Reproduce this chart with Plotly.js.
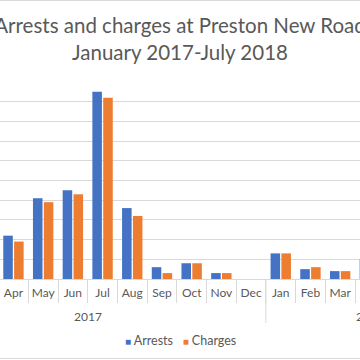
<!DOCTYPE html>
<html>
<head>
<meta charset="utf-8">
<script src="https://cdn.plot.ly/plotly-3.0.1.min.js"></script>
<style>
  html, body { margin: 0; padding: 0; background: #fff; }
  #wrap { position: relative; width: 360px; height: 360px; overflow: hidden; }
  #chart { width: 360px; height: 360px; }
  .edge { position: absolute; left: 0; width: 360px; height: 1px; background: #D9D9D9; }
</style>
</head>
<body>
<div id="wrap">
  <div id="chart"></div>
  <div class="edge" style="top:0px"></div>
  <div class="edge" style="top:358px"></div>
</div>
<script>
// Categories: year (outer) and month (inner)
const years = ['2017','2017','2017','2017','2017','2017','2017','2017','2017','2017','2017','2017',
               '2018','2018','2018','2018','2018','2018','2018'];
const months = ['Jan','Feb','Mar','Apr','May','Jun','Jul','Aug','Sep','Oct','Nov','Dec',
                'Jan','Feb','Mar','Apr','May','Jun','Jul'];
// Values (months outside the visible crop are unknown -> null)
const arrests = [null, null, null, 22, 41, 45, 95, 36, 6, 8, 3, 0, 13, 5, 4, 10, null, null, null];
const charges = [null, null, null, 19, 39, 43, 92, 32, 3, 8, 3, 0, 13, 6, 4, null, null, null, null];

const seriesNames = ['Arrests', 'Charges'];
const seriesColors = ['#4472C4', '#ED7D31'];

const FONT = 'Lato, "Open Sans", sans-serif';
const TXT = '#595959';
const GRID = '#D9D9D9';

const cats = months.map((m, i) => m + ' ' + years[i]);
const xRange = [2.547, 14.668];
const toPaper = idx => (idx - xRange[0]) / (xRange[1] - xRange[0]);

const traces = [arrests, charges].map((vals, i) => ({
  type: 'bar',
  name: seriesNames[i],
  x: cats,
  y: vals,
  marker: { color: seriesColors[i], line: { width: 0 } },
  showlegend: false,
  hoverinfo: 'skip'
}));

// Year groups (outer labels + dividers), derived from the years array
const groups = [];
years.forEach((y, i) => {
  const g = groups[groups.length - 1];
  if (g && g.year === y) g.end = i; else groups.push({ year: y, start: i, end: i });
});

const LABEL_Y = (360 - 316 - 81) / 197;
const DIV_Y = (360 - 323 - 81) / 197;
const LEGEND_Y = (360 - 340 - 81) / 197;

const annotations = groups.map(g => ({
  xref: 'paper', yref: 'paper',
  x: toPaper((g.start + g.end) / 2), y: LABEL_Y,
  xanchor: 'center', yanchor: 'middle',
  showarrow: false, text: g.year,
  font: { family: FONT, size: 12, color: TXT }
}));

const legendText = seriesNames.map((n, i) =>
  '<span style="color:' + seriesColors[i] + ';font-size:10px">\u25A0</span> ' + n
).join('   ');
annotations.push({
  xref: 'paper', yref: 'paper',
  x: 0.5, y: LEGEND_Y,
  xanchor: 'center', yanchor: 'middle',
  showarrow: false, text: legendText,
  font: { family: FONT, size: 12.5, color: TXT }
});

const shapes = groups.slice(1).map(g => ({
  type: 'line', xref: 'x', yref: 'paper',
  x0: g.start - 0.5, x1: g.start - 0.5, y0: 0, y1: DIV_Y,
  line: { color: GRID, width: 1 }
}));

const layout = {
  width: 360,
  height: 360,
  margin: { l: 0, r: 0, t: 82, b: 81, pad: 0 },
  paper_bgcolor: '#ffffff',
  plot_bgcolor: '#ffffff',
  font: { family: FONT, color: TXT, size: 12 },
  title: {
    text: 'Arrests and charges at Preston New Road<br>January 2017-July 2018',
    font: { family: FONT, size: 20.5, color: TXT },
    x: 0.5, xanchor: 'center', xref: 'container',
    y: 1 - 33 / 360, yanchor: 'top', yref: 'container'
  },
  barmode: 'group',
  bargap: 0.27,
  bargroupgap: 0.12,
  xaxis: {
    type: 'category',
    range: xRange,
    tickmode: 'array', tickvals: cats, ticktext: months, tickangle: 0,
    showline: true, linecolor: GRID, linewidth: 1,
    ticks: 'outside', tickson: 'boundaries', ticklen: 23, tickcolor: GRID, tickwidth: 1,
    ticklabelstandoff: 3,
    tickfont: { family: FONT, size: 12, color: TXT },
    showgrid: false,
    fixedrange: true
  },
  yaxis: {
    range: [0, 100],
    dtick: 10,
    showticklabels: false,
    ticks: '',
    showgrid: true, gridcolor: GRID, gridwidth: 1,
    zeroline: false,
    showline: false,
    fixedrange: true
  },
  shapes: shapes,
  annotations: annotations
};

Plotly.newPlot('chart', traces, layout, { displayModeBar: false, staticPlot: true });
</script>
</body>
</html>
